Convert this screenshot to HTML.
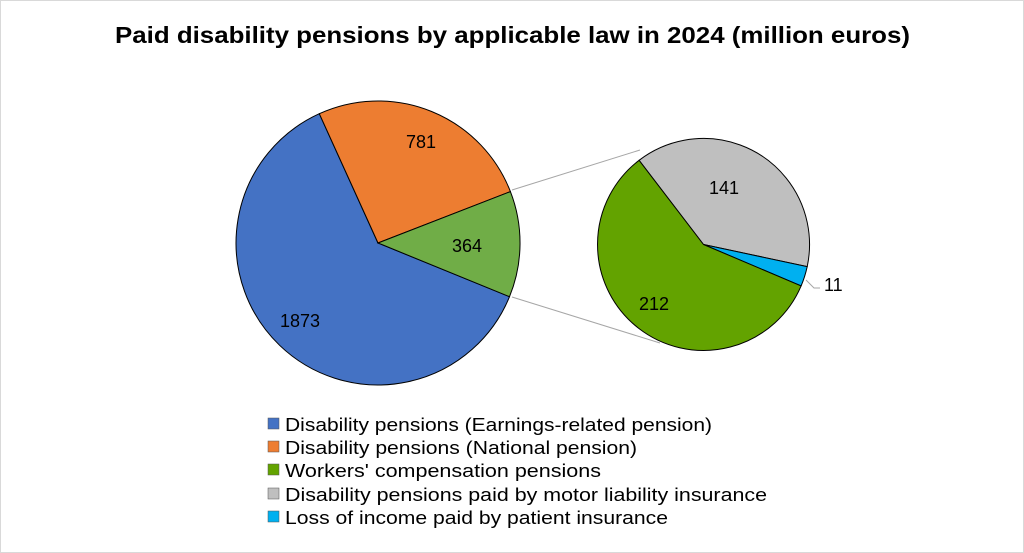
<!DOCTYPE html>
<html><head><meta charset="utf-8"><style>
body{margin:0;background:#fff}
svg{display:block;font-family:"Liberation Sans",Calibri,sans-serif}
</style></head><body>
<svg width="1024" height="553" viewBox="0 0 1024 553">
<rect x="0.5" y="0.5" width="1023" height="552" fill="#fff" stroke="#d9d9d9"/>
<text x="115" y="43" font-size="23" font-weight="bold" fill="#000" textLength="795" lengthAdjust="spacingAndGlyphs">Paid disability pensions by applicable law in 2024 (million euros)</text>
<line x1="512" y1="190" x2="640" y2="150" stroke="#a6a6a6" stroke-width="1"/>
<line x1="512" y1="297" x2="660" y2="343" stroke="#a6a6a6" stroke-width="1"/>
<path d="M378,243 L319.3,113.7 A142,142 0 1,0 509.5,296.7 Z" fill="#4472c4" stroke="#000" stroke-width="1"/>
<path d="M378,243 L319.3,113.7 A142,142 0 0,1 510.4,191.6 Z" fill="#ed7d31" stroke="#000" stroke-width="1"/>
<path d="M378,243 L510.4,191.6 A142,142 0 0,1 509.5,296.7 Z" fill="#70ad47" stroke="#000" stroke-width="1"/>
<path d="M703.5,244.5 L639.1,160.3 A106,106 0 0,1 807.2,222.3 A106,106 0 0,1 807.2,266.6 Z" fill="#bfbfbf" stroke="#000" stroke-width="1"/>
<path d="M703.5,244.5 L807.2,266.6 A106,106 0 0,1 801.1,285.9 Z" fill="#00b0f0" stroke="#000" stroke-width="1"/>
<path d="M703.5,244.5 L801.1,285.9 A106,106 0 1,1 639.1,160.3 Z" fill="#63a300" stroke="#000" stroke-width="1"/>
<polyline points="806,280 814,288 820,288" fill="none" stroke="#a6a6a6"/>
<g font-size="18" fill="#000">
<text x="421" y="148" text-anchor="middle">781</text>
<text x="467" y="252" text-anchor="middle">364</text>
<text x="300" y="327" text-anchor="middle">1873</text>
<text x="724" y="194" text-anchor="middle">141</text>
<text x="654" y="310" text-anchor="middle">212</text>
<text x="824" y="291">11</text>
</g>
<g font-size="18.5" fill="#000" lengthAdjust="spacingAndGlyphs">
<rect x="268" y="418" width="11" height="11" fill="#4472c4" stroke="#555" stroke-width=".5"/>
<text x="285" y="431" textLength="427" lengthAdjust="spacingAndGlyphs">Disability pensions (Earnings-related pension)</text>
<rect x="268" y="441" width="11" height="11" fill="#ed7d31" stroke="#555" stroke-width=".5"/>
<text x="285" y="454" textLength="352" lengthAdjust="spacingAndGlyphs">Disability pensions (National pension)</text>
<rect x="268" y="464" width="11" height="11" fill="#63a300" stroke="#555" stroke-width=".5"/>
<text x="285" y="477" textLength="316" lengthAdjust="spacingAndGlyphs">Workers' compensation pensions</text>
<rect x="268" y="488" width="11" height="11" fill="#bfbfbf" stroke="#555" stroke-width=".5"/>
<text x="285" y="501" textLength="482" lengthAdjust="spacingAndGlyphs">Disability pensions paid by motor liability insurance</text>
<rect x="268" y="511" width="11" height="11" fill="#00b0f0" stroke="#555" stroke-width=".5"/>
<text x="285" y="524" textLength="383" lengthAdjust="spacingAndGlyphs">Loss of income paid by patient insurance</text>
</g>
</svg>
</body></html>
